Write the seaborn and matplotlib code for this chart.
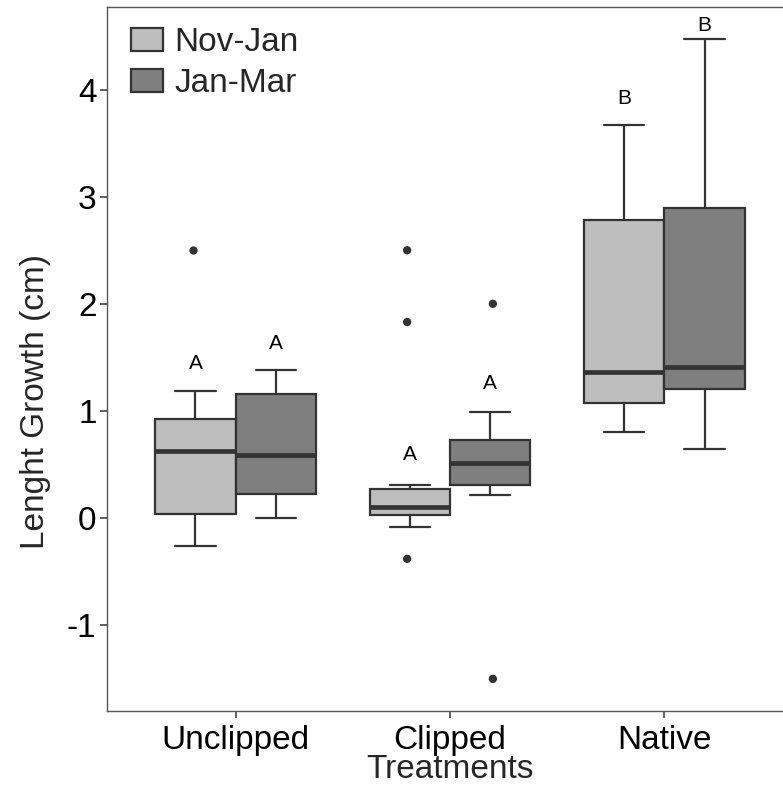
import matplotlib
matplotlib.use("Agg")
import matplotlib.pyplot as plt
import seaborn as sns
import pandas as pd

# ---- data ----
categories = ["Unclipped", "Clipped", "Native"]
periods = ["Nov-Jan", "Jan-Mar"]

# five-number summaries per category: [lower whisker, Q1, median, Q3, upper whisker]
nov_jan_box = [[-0.26, 0.034, 0.63, 0.924, 1.19],
               [-0.087, 0.028, 0.106, 0.271, 0.308],
               [0.80, 1.077, 1.364, 2.78, 3.67]]
jan_mar_box = [[0.0, 0.227, 0.59, 1.158, 1.38],
               [0.215, 0.308, 0.511, 0.728, 0.99],
               [0.645, 1.204, 1.414, 2.895, 4.47]]

# outliers
outlier_cat = ["Unclipped", "Clipped", "Clipped", "Clipped", "Clipped", "Clipped"]
outlier_per = ["Nov-Jan", "Nov-Jan", "Nov-Jan", "Nov-Jan", "Jan-Mar", "Jan-Mar"]
outlier_val = [2.5, 2.5, 1.83, -0.38, 2.0, -1.5]

# significance letters
letters_nov_jan = ["A", "A", "B"]
letters_jan_mar = ["A", "A", "B"]
letter_y_nov_jan = [1.44, 0.59, 3.92]
letter_y_jan_mar = [1.63, 1.26, 4.60]

yticks = [-1, 0, 1, 2, 3, 4]
colors = {"Nov-Jan": "#BEBEBE", "Jan-Mar": "#7F7F7F"}
line_col = "#333333"

# ---- build tables ----
rows = []
for per, boxes in zip(periods, [nov_jan_box, jan_mar_box]):
    for cat, vals in zip(categories, boxes):
        for v in vals:
            rows.append({"Treatment": cat, "Period": per, "Growth": v})
df = pd.DataFrame(rows)
df_out = pd.DataFrame({"Treatment": outlier_cat, "Period": outlier_per, "Growth": outlier_val})

# ---- plot ----
sns.set_theme(style="white")
plt.rcParams["font.family"] = ["Liberation Sans", "DejaVu Sans"]
plt.rcParams["axes.unicode_minus"] = False

fig = plt.figure(figsize=(7.83, 7.89), dpi=100)
ax = fig.add_axes([107 / 783, 78 / 789, 686 / 783, 704 / 789])

sns.boxplot(data=df, x="Treatment", y="Growth", hue="Period", order=categories,
            hue_order=periods, palette=colors, saturation=1, width=0.75, gap=0,
            linecolor=line_col, linewidth=1.6, showfliers=False, whis=1.5,
            medianprops={"linewidth": 3.4, "color": line_col},
            ax=ax)
sns.stripplot(data=df_out, x="Treatment", y="Growth", hue="Period", order=categories,
              hue_order=periods, dodge=True, jitter=False, palette=[line_col, line_col],
              size=6, legend=False, ax=ax)

off = 0.75 / 4
for i, cat in enumerate(categories):
    ax.text(i - off, letter_y_nov_jan[i], letters_nov_jan[i], ha="center", va="center",
            fontsize=15, color="black")
    ax.text(i + off, letter_y_jan_mar[i], letters_jan_mar[i], ha="center", va="center",
            fontsize=15, color="black")

ax.set_xlim(-0.6, 2.6)
ax.set_ylim(-1.80, 4.77)
ax.set_yticks(yticks)
ax.set_yticklabels([str(t) for t in yticks])
ax.tick_params(axis="both", which="major", labelsize=24, length=5, width=1.1,
               color=line_col, labelcolor="black", bottom=True, left=True)
ax.tick_params(axis="y", pad=2.5)
ax.tick_params(axis="x", pad=5.0)
ax.set_xlabel("Treatments", fontsize=24, labelpad=-1)
ax.set_ylabel("Lenght Growth (cm)", fontsize=24, labelpad=12)
ax.yaxis.set_label_coords(-0.081, 0.44)
for s in ax.spines.values():
    s.set_color("#555555")
    s.set_linewidth(1.0)

handles, labels = ax.get_legend_handles_labels()
leg = ax.legend(handles[:2], labels[:2], loc="upper left", bbox_to_anchor=(0.035, 0.971),
                frameon=False, fontsize=24, handlelength=0.95, handleheight=0.66,
                handletextpad=0.35, labelspacing=0.3, borderpad=0, borderaxespad=0)

fig.savefig("out.png", dpi=100)
